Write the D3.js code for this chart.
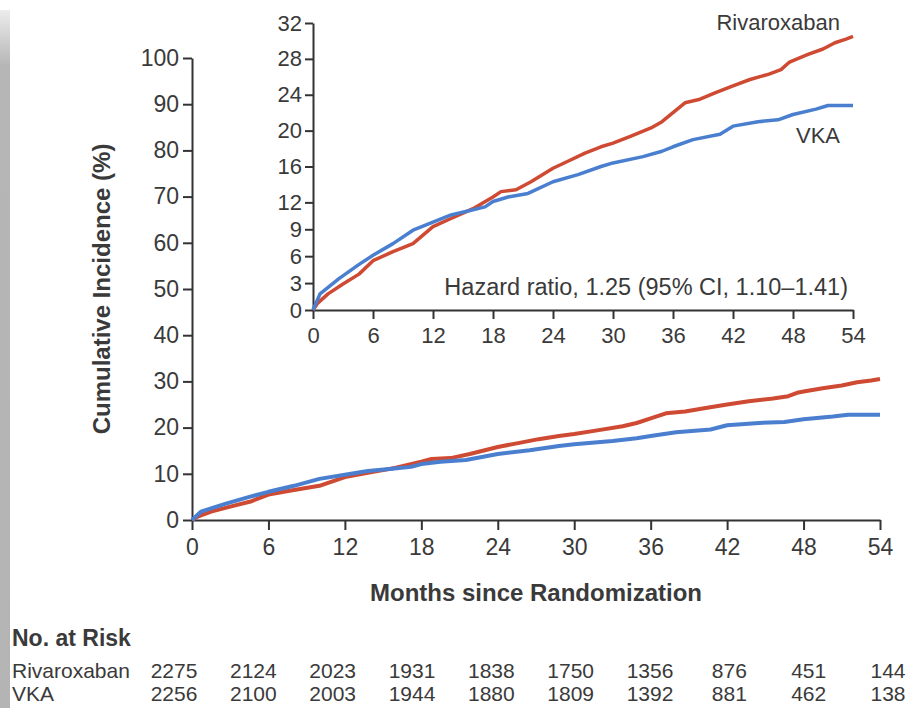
<!DOCTYPE html>
<html>
<head>
<meta charset="utf-8">
<script src="https://cdn.jsdelivr.net/npm/d3@7"></script>
<style>
  html, body { margin: 0; padding: 0; background: #ffffff; }
  svg { display: block; }
  text { font-family: "Liberation Sans Narrow", "Arial Narrow", "Liberation Sans", sans-serif; fill: #3a3a3a; }
</style>
</head>
<body>
<svg id="chart" width="907" height="708"></svg>
<script>
// ---- data ----
const rivaMonths = [0,0.5,1.5,3,4.6,6,8,10,12,13.8,15,16,18,18.8,20.3,21.8,24,25.7,27.2,28.8,30,31.8,33.8,34.9,36,37.2,38.7,40.2,42,43.7,45.6,46.8,47.6,48,49.5,51,52.2,53.3,54];
const rivaValues = [0,0.8,1.8,2.9,4.0,5.5,6.5,7.4,9.3,10.2,10.8,11.3,12.6,13.2,13.4,14.3,15.8,16.7,17.5,18.2,18.6,19.4,20.3,21.0,22.0,23.1,23.5,24.2,25.0,25.7,26.3,26.8,27.6,27.8,28.5,29.1,29.8,30.2,30.5];
const vkaMonths = [0,0.7,2.6,4.5,6,8,10,12,13.8,15.7,17.2,18,19.5,21.5,24,26.5,28.8,30,33,34.9,36,38,40.7,42,44.5,46.5,48,50.3,51.5,54];
const vkaValues = [0,1.8,3.5,5.0,6.1,7.4,8.9,9.8,10.6,11.1,11.5,12.1,12.6,13.0,14.3,15.1,16.0,16.4,17.1,17.7,18.2,19.0,19.6,20.5,21.0,21.2,21.8,22.4,22.8,22.8];
const xTicks = [0,6,12,18,24,30,36,42,48,54];
const mainYTicks = [0,10,20,30,40,50,60,70,80,90,100];
const insetYTicks = [0,3,6,9,12,16,20,24,28,32];
const seriesNames = ["Rivaroxaban", "VKA"];
const atRiskMonths = [0,6,12,18,24,30,36,42,48,54];
const atRiskRiva = [2275,2124,2023,1931,1838,1750,1356,876,451,144];
const atRiskVka = [2256,2100,2003,1944,1880,1809,1392,881,462,138];
const hazardText = "Hazard ratio, 1.25 (95% CI, 1.10\u20131.41)";

const colors = { riva: "#cf4a33", vka: "#4a7fd0" };
const axisColor = "#333333";

const svg = d3.select("#chart");

// left gray band
const defs = svg.append("defs");
const grad = defs.append("linearGradient").attr("id", "band").attr("x1", 0).attr("x2", 0).attr("y1", 0).attr("y2", 1);
grad.append("stop").attr("offset", "0%").attr("stop-color", "#ececec");
grad.append("stop").attr("offset", "8%").attr("stop-color", "#b6b6b6");
grad.append("stop").attr("offset", "100%").attr("stop-color", "#b4b4b4");
svg.append("rect").attr("x", 0).attr("y", 10).attr("width", 10).attr("height", 698).attr("fill", "url(#band)");

const riva = rivaMonths.map((m, i) => ({ m, v: rivaValues[i] }));
const vka = vkaMonths.map((m, i) => ({ m, v: vkaValues[i] }));

function styleAxis(g, fontSize) {
  g.select(".domain").attr("stroke", axisColor).attr("stroke-width", 2);
  g.selectAll(".tick line").attr("stroke", axisColor).attr("stroke-width", 2);
  g.selectAll(".tick text").style("font-size", fontSize + "px").attr("fill", "#3a3a3a");
}

// ---- main chart ----
const mx = d3.scaleLinear().domain([0, 54]).range([192, 880]);
const my = d3.scaleLinear().domain([0, 100]).range([520, 58]);

const gMainX = svg.append("g").attr("transform", `translate(0,${my(0)})`)
  .call(d3.axisBottom(mx).tickValues(xTicks).tickSize(10).tickPadding(9).tickSizeOuter(0));
styleAxis(gMainX, 23);
const gMainY = svg.append("g").attr("transform", `translate(${mx(0)},0)`)
  .call(d3.axisLeft(my).tickValues(mainYTicks).tickSize(9).tickPadding(4).tickSizeOuter(0));
styleAxis(gMainY, 23);

const mainLine = d3.line().x(d => mx(d.m)).y(d => my(d.v)).curve(d3.curveLinear);
svg.append("path").datum(riva).attr("d", mainLine).attr("fill", "none").attr("stroke", colors.riva).attr("stroke-width", 4).attr("stroke-linejoin", "round");
svg.append("path").datum(vka).attr("d", mainLine).attr("fill", "none").attr("stroke", colors.vka).attr("stroke-width", 4).attr("stroke-linejoin", "round");

svg.append("text").attr("transform", `translate(110,${(my(0) + my(100)) / 2 + 0}) rotate(-90)`)
  .attr("text-anchor", "middle").style("font-size", "24px").style("font-weight", "bold")
  .text("Cumulative Incidence (%)");

svg.append("text").attr("x", (mx(0) + mx(54)) / 2).attr("y", 601)
  .attr("text-anchor", "middle").style("font-size", "24px").style("font-weight", "bold")
  .text("Months since Randomization");

// ---- inset ----
const ix = d3.scaleLinear().domain([0, 54]).range([313, 853]);
const iy = d3.scaleLinear().domain([0, 32]).range([310, 23]);

const gInX = svg.append("g").attr("transform", `translate(0,${iy(0)})`)
  .call(d3.axisBottom(ix).tickValues(xTicks).tickSize(9).tickPadding(8).tickSizeOuter(0));
styleAxis(gInX, 22);
const gInY = svg.append("g").attr("transform", `translate(${ix(0)},0)`)
  .call(d3.axisLeft(iy).tickValues(insetYTicks).tickSize(8).tickPadding(3).tickSizeOuter(0));
styleAxis(gInY, 22);

const insetLine = d3.line().x(d => ix(d.m)).y(d => iy(d.v)).curve(d3.curveLinear);
svg.append("path").datum(riva).attr("d", insetLine).attr("fill", "none").attr("stroke", colors.riva).attr("stroke-width", 3.5).attr("stroke-linejoin", "round");
svg.append("path").datum(vka).attr("d", insetLine).attr("fill", "none").attr("stroke", colors.vka).attr("stroke-width", 3.5).attr("stroke-linejoin", "round");

svg.append("text").attr("x", 840).attr("y", 30).attr("text-anchor", "end").style("font-size", "22px").text(seriesNames[0]);
svg.append("text").attr("x", 840).attr("y", 143).attr("text-anchor", "end").style("font-size", "22px").text(seriesNames[1]);
svg.append("text").attr("x", 848).attr("y", 295).attr("text-anchor", "end").style("font-size", "23.5px").text(hazardText);

// ---- number at risk ----
const ax = d3.scaleLinear().domain([0, 54]).range([174, 888]);
svg.append("text").attr("x", 12).attr("y", 646).style("font-size", "23px").style("font-weight", "bold").attr("fill", "#222").text("No. at Risk");
const rows = [{ name: seriesNames[0], vals: atRiskRiva, y: 678 }, { name: seriesNames[1], vals: atRiskVka, y: 701 }];
rows.forEach(r => {
  svg.append("text").attr("x", 12).attr("y", r.y).style("font-size", "21px").text(r.name);
  svg.selectAll(null).data(r.vals).enter().append("text")
    .attr("x", (d, i) => ax(atRiskMonths[i])).attr("y", r.y)
    .attr("text-anchor", "middle").style("font-size", "21px").text(d => d);
});
</script>
</body>
</html>
